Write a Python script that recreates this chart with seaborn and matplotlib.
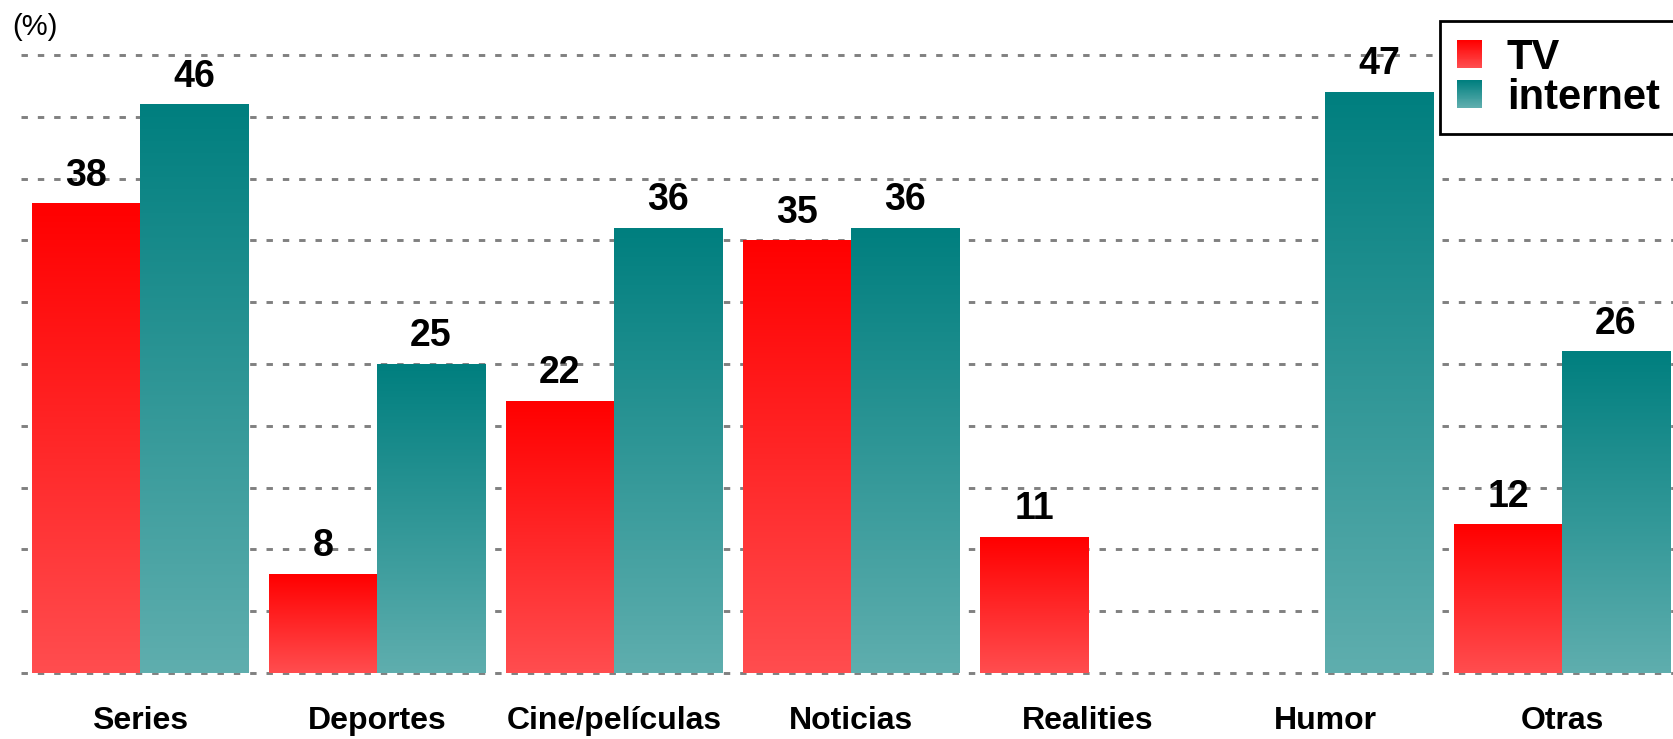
import numpy as np
import pandas as pd
import seaborn as sns
import matplotlib
matplotlib.use("Agg")
import matplotlib.pyplot as plt
from matplotlib.colors import LinearSegmentedColormap
from matplotlib.legend_handler import HandlerBase
from matplotlib.patches import Rectangle, Patch

# --- data -------------------------------------------------
categories = ["Series", "Deportes", "Cine/películas", "Noticias", "Realities", "Humor", "Otras"]
tv_values = [38, 8, 22, 35, 11, np.nan, 12]
internet_values = [46, 25, 36, 36, np.nan, 47, 26]
series_names = ["TV", "internet"]

df = pd.DataFrame({
    "categoria": categories * 2,
    "medio": ["TV"] * len(categories) + ["internet"] * len(categories),
    "valor": tv_values + internet_values,
}).dropna()

# top / bottom colours of the vertical gradients
tv_top, tv_bottom = "#ff0000", "#ff4d4f"
net_top, net_bottom = "#007f7f", "#5faeae"
gradients = {"TV": (tv_top, tv_bottom), "internet": (net_top, net_bottom)}

# --- style ------------------------------------------------
sns.set_style("white")
plt.rcParams["font.family"] = ["Liberation Sans", "DejaVu Sans"]
plt.rcParams["text.color"] = "black"
plt.rcParams["xtick.color"] = "black"
plt.rcParams["xtick.labelcolor"] = "black"

W, H = 1674, 739
fig = plt.figure(figsize=(W / 100, H / 100), dpi=100)

# axes placed so 0 -> y=673px, 50 -> y=55px, categories spaced 237px
ppu = (673 - 55) / 50.0
bot_px = 673 + 0.5 * ppu
top_px = 55 - 1.0 * ppu
left_px, right_px = 21.5, 1680.5
ax = fig.add_axes([left_px / W, (H - bot_px) / H,
                   (right_px - left_px) / W, (bot_px - top_px) / H])

sns.barplot(data=df, x="categoria", y="valor", hue="medio",
            order=categories, hue_order=series_names,
            palette={"TV": tv_top, "internet": net_top},
            width=0.912, gap=0, saturation=1, legend=False, ax=ax)

# value labels above bars
for cont in ax.containers:
    ax.bar_label(cont, fmt="%.0f", padding=7, fontsize=27, fontweight="bold",
                 color="black")

# replace flat fills by vertical gradients
for patch in ax.patches:
    h = patch.get_height()
    if not np.isfinite(h) or h <= 0:
        continue
    fc = matplotlib.colors.to_hex(patch.get_facecolor())
    key = "TV" if fc == tv_top else "internet"
    top_c, bot_c = gradients[key]
    cmap = LinearSegmentedColormap.from_list(key, [top_c, bot_c])
    grad = np.linspace(0, 1, 256).reshape(-1, 1)
    x0 = patch.get_x()
    ax.imshow(grad, cmap=cmap, aspect="auto", origin="upper",
              extent=[x0, x0 + patch.get_width(), 0, h], zorder=1)
    patch.set_facecolor("none")
    patch.set_edgecolor("none")

ax.set_xlim(-0.5, 6.5)
ax.set_ylim(-0.5, 51)
ax.set_yticks(np.arange(0, 51, 5))
ax.set_yticklabels([])
ax.grid(axis="y", color="#808080", linestyle=(0, (2.2, 3.4)), linewidth=2.1)
ax.set_axisbelow(True)
ax.tick_params(axis="x", length=0, pad=19, labelsize=23, labelcolor="black")
ax.tick_params(axis="y", length=0)
for lbl in ax.get_xticklabels():
    lbl.set_fontweight("bold")
ax.set_xlabel("")
ax.set_ylabel("")
sns.despine(ax=ax, left=True, bottom=True)

fig.text(12 / W, 1 - 27 / H, "(%)", fontsize=21, va="center", ha="left", color="black")


# --- legend with gradient swatches ------------------------
class GradientHandler(HandlerBase):
    def __init__(self, top, bottom, steps=30):
        super().__init__()
        self.top, self.bottom, self.steps = top, bottom, steps

    def create_artists(self, legend, orig_handle, xdescent, ydescent,
                       width, height, fontsize, trans):
        cmap = LinearSegmentedColormap.from_list("g", [self.bottom, self.top])
        arts = []
        step = height / self.steps
        for i in range(self.steps):
            arts.append(Rectangle((-xdescent, -ydescent + i * step), width, step * 1.05,
                                  facecolor=cmap(i / (self.steps - 1)), edgecolor="none",
                                  transform=trans))
        return arts


h_tv = Patch(label="TV")
h_net = Patch(label="internet")
leg = ax.legend(handles=[h_tv, h_net],
                handler_map={h_tv: GradientHandler(tv_top, tv_bottom),
                             h_net: GradientHandler(net_top, net_bottom)},
                loc="upper left", bbox_to_anchor=(1440 / W, 1 - 21 / H),
                bbox_transform=fig.transFigure, borderaxespad=0,
                prop={"weight": "bold", "size": 30},
                handlelength=0.6, handleheight=0.62, handletextpad=0.6,
                labelspacing=0.0, borderpad=0.4, labelcolor="black",
                frameon=True, fancybox=False, framealpha=1, edgecolor="black")
leg.get_frame().set_linewidth(2)
leg.set_zorder(5)

fig.savefig("out.png", dpi=100)
